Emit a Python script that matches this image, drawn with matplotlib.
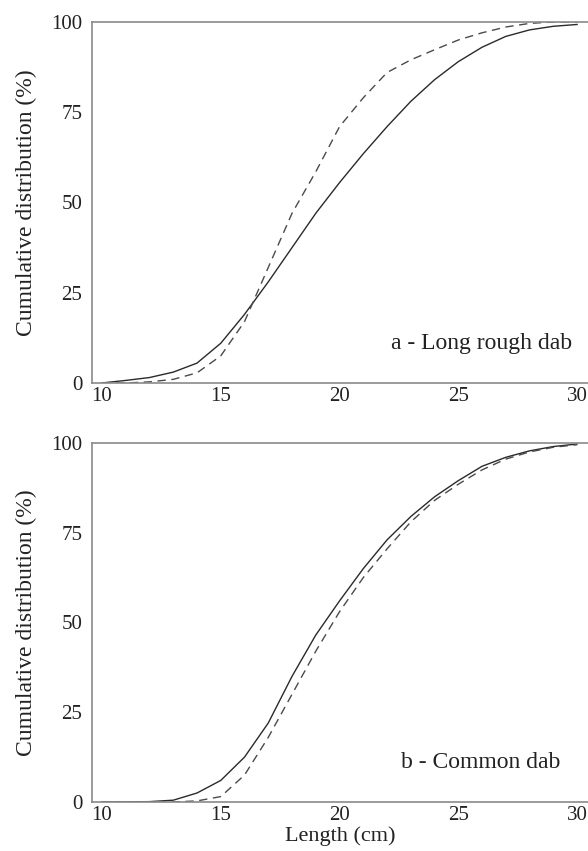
import matplotlib.pyplot as plt

length = [10, 11, 12, 13, 14, 15, 16, 17, 18, 19, 20,
          21, 22, 23, 24, 25, 26, 27, 28, 29, 30]

# a - Long rough dab
a_solid = [0, 0.7, 1.5, 3, 5.5, 11, 19, 28, 37.5, 47, 55.5,
           63.5, 71, 78, 84, 89, 93, 96, 97.8, 98.8, 99.3]
a_dashed = [0, 0, 0.3, 1, 2.8, 7.5, 17, 32, 47, 58.5, 71,
            79, 86, 89.5, 92.3, 95, 97, 98.6, 99.6, 100, 100]

# b - Common dab
b_solid = [0, 0, 0.1, 0.5, 2.5, 6, 12.5, 22, 35, 46.5, 56,
           65, 73, 79.5, 85, 89.5, 93.5, 96, 97.8, 99, 99.7]
b_dashed = [0, 0, 0, 0, 0.3, 1.5, 7.5, 18, 30, 42, 53,
            62.5, 70.5, 78, 84, 88.5, 92.5, 95.5, 97.5, 98.8, 99.5]

panels = [
    (a_solid, a_dashed, "a - Long rough dab"),
    (b_solid, b_dashed, "b - Common dab"),
]

plt.rcParams['font.family'] = ['Liberation Serif', 'DejaVu Serif']

fig = plt.figure(figsize=(5.88, 8.51), dpi=100)
boxes = [[0.1565, 0.550, 0.8435, 0.4242],
         [0.1565, 0.0576, 0.8435, 0.4219]]

for box, (solid, dashed, title) in zip(boxes, panels):
    ax = fig.add_axes(box)
    ax.plot(length, solid, color='#2a2a2a', linewidth=1.0)
    ax.plot(length, dashed, color='#4a4a4a', linewidth=1.0,
            linestyle=(0, (6, 4)))
    ax.set_xlim(9.58, 30.46)
    ax.set_ylim(0, 100)
    ax.set_xticks([10, 15, 20, 25, 30])
    ax.set_yticks([0, 25, 50, 75, 100])
    ax.tick_params(length=0, labelsize=15, colors='#222222')
    ax.tick_params(axis='y', pad=7)
    ax.tick_params(axis='x', pad=3)
    ax.spines['right'].set_visible(False)
    for side in ['left', 'top', 'bottom']:
        ax.spines[side].set_color('#8a8a8a')
        ax.spines[side].set_linewidth(1.2)
    ax.set_ylabel("Cumulative distribution (%)", fontsize=17,
                  color='#222222', labelpad=10)
    ax.text(25.96, 11, title, fontsize=17, color='#222222',
            ha='center', va='center')

ax.set_xlabel("Length (cm)", fontsize=16, color='#222222', labelpad=1)

fig.savefig("out.png", dpi=100)
